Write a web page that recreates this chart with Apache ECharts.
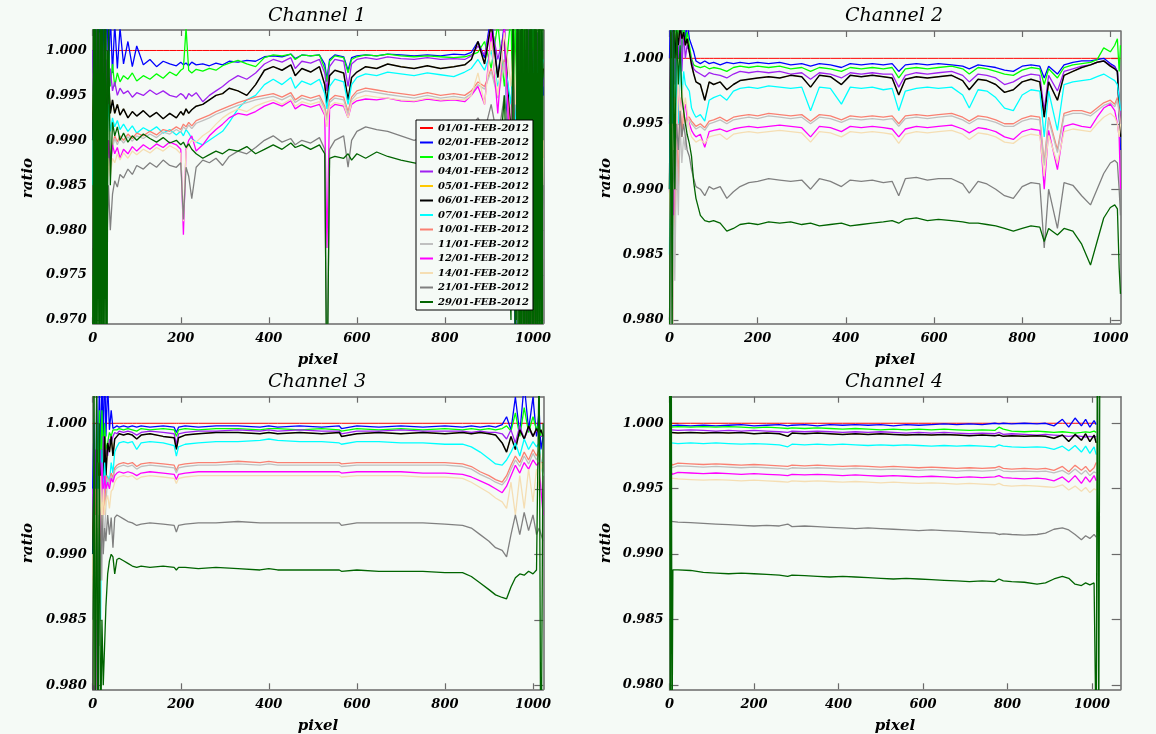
<!DOCTYPE html>
<html><head><meta charset="utf-8">
<script src="https://cdn.jsdelivr.net/npm/echarts@6/dist/echarts.min.js"></script>
<style>html,body{margin:0;padding:0;background:#f5faf6;}#c{width:1156px;height:734px;}</style>
</head><body><div id="c"></div>
<script>
// ---------- labels / ticks ----------
const SERIES_NAMES = ['01/01-FEB-2012','02/01-FEB-2012','03/01-FEB-2012','04/01-FEB-2012','05/01-FEB-2012','06/01-FEB-2012','07/01-FEB-2012','10/01-FEB-2012','11/01-FEB-2012','12/01-FEB-2012','14/01-FEB-2012','21/01-FEB-2012','29/01-FEB-2012'];
const CHANNEL_TITLES = ['Channel 1','Channel 2','Channel 3','Channel 4'];
const X_TICKS = [0,200,400,600,800,1000];
const CH1_Y_TICKS = [0.970,0.975,0.980,0.985,0.990,0.995,1.000];
const CH234_Y_TICKS = [0.980,0.985,0.990,0.995,1.000];

// ---------- Channel 1 ----------
const CH1_PIXEL = [0,4,8,12,16,20,24,28,32,36,40,
45,50,56,62,70,80,90,100,115,130,
145,160,175,190,200,206,212,218,225,235,
250,265,280,295,310,330,350,370,390,410,
430,450,460,475,495,515,527,532,538,550,
570,580,588,600,620,645,670,700,730,760,
790,820,845,860,875,890,905,920,935,
950,955,960,965,970,975,980,985,990,995,1000,1005,1010,1015,1020,1023];
const CH1_01 = [1,1,1,1,1,1,1,1,1,1,1,
1,1,1,1,1,1,1,1,1,1, 1,1,1,1,1,1,1,1,1,1, 1,1,1,1,1,1,1,1,1,1, 1,1,1,1,1,1,1,1,1,1, 1,1,1,1,1,1,1,1,1,1, 1,1,1,1,1,1,1,1,1,
1,1,1,1,1,1,1,1,1,1,1,1,1,1,1,1];
const CH1_02 = [1.0,.995,1.003,.99,1.004,.992,1.005,.996,1.006,.997,1.004,
.9975,1.003,.998,1.0025,.9985,1.001,.9982,1.0005,.9984,.9990,
.9982,.9988,.9985,.9983,.9987,.9984,.9986,.9983,.9987,.9984,
.9985,.9983,.9986,.9984,.9988,.9987,.9989,.9988,.9993,.9994,
.9993,.9996,.9991,.9995,.9994,.9995,.9985,.9968,.9990,.9995,
.9993,.9978,.9992,.9994,.9995,.9994,.9996,.9995,.9994,.9995,
.9994,.9996,.9995,.9998,1.001,.9992,1.004,.997,1.003,
.975,1.004,.96,1.003,.99,1.005,.97,1.0,.96,.995,1.003,.98,1.0,.99,1.002,.995];
const CH1_03 = [.99,1.004,.985,1.003,.99,1.002,.993,1.001,.995,1.0,.996,
.9985,.996,.9975,.9965,.9972,.9968,.9975,.9966,.9972,.9968,
.9974,.9969,.9976,.9972,.9978,.9980,1.0025,.9978,.9975,.9979,
.9977,.9980,.9978,.9983,.9986,.9989,.9985,.9982,.9992,.9995,
.9994,.9996,.9990,.9995,.9994,.9995,.9980,.9965,.9988,.9994,
.9992,.9975,.9990,.9993,.9995,.9994,.9996,.9994,.9993,.9994,
.9993,.9992,.9993,.9995,.9998,1.001,.998,1.003,.996,
1.004,.99,1.005,.985,1.003,.99,1.005,.975,1.0,.98,1.003,.99,1.002,.995,1.0,.997];
const CH1_04 = [1.0,.99,1.003,.988,1.002,.99,1.0,.992,.999,.994,.998,
.9955,.9965,.9950,.9958,.9952,.9955,.9948,.9953,.9950,.9956,
.9951,.9955,.9950,.9948,.9952,.9950,.9946,.9952,.9949,.9953,
.9943,.9950,.9955,.9960,.9966,.9972,.9968,.9975,.9985,.9990,
.9987,.9992,.9980,.9988,.9986,.9990,.9975,.9955,.9982,.9990,
.9988,.9960,.9985,.9990,.9992,.9990,.9993,.9991,.9990,.9992,
.9990,.9991,.9990,.9994,1.0005,.9995,1.003,.999,1.002,
.985,1.003,.98,1.004,.975,.995,.96,.99,1.003,.99,1.0,.985,1.002,.995,.999,.996];
const CH1_05 = [.99,1.002,.985,1.001,.988,.999,.990,.998,.992,.997,.993,
.9945,.9930,.9940,.9928,.9935,.9925,.9932,.9927,.9933,.9926,
.9931,.9924,.9930,.9925,.9932,.9928,.9935,.9930,.9934,.9938,
.9940,.9945,.9950,.9952,.9958,.9955,.9950,.9962,.9978,.9982,
.9978,.9984,.9972,.9980,.9976,.9982,.9962,.9940,.9972,.9978,
.9975,.9945,.9970,.9976,.9982,.9980,.9985,.9982,.9980,.9983,
.9980,.9982,.9984,.9990,1.001,.9985,1.003,.997,1.002,
.990,1.003,.985,1.002,.99,1.003,.985,1.0,.99,1.002,.995,1.0,.993,.998,.996,.998];
const CH1_06 = [.99,1.002,.985,1.001,.988,.999,.990,.998,.992,.997,.993,
.9945,.9930,.9940,.9928,.9935,.9925,.9932,.9927,.9933,.9926,
.9931,.9924,.9930,.9925,.9932,.9928,.9935,.9930,.9934,.9938,
.9940,.9945,.9950,.9952,.9958,.9955,.9950,.9962,.9978,.9982,
.9978,.9984,.9972,.9980,.9976,.9982,.9962,.9940,.9972,.9978,
.9975,.9945,.9970,.9976,.9982,.9980,.9985,.9982,.9980,.9983,
.9980,.9982,.9984,.9990,1.001,.9985,1.003,.997,1.002,
.990,1.003,.985,1.002,.99,1.003,.985,1.0,.99,1.002,.995,1.0,.993,.998,.996,.998];
const CH1_07 = [.985,1.0,.98,.999,.985,.997,.988,.995,.990,.994,.991,
.9925,.9915,.9922,.9912,.9918,.9910,.9916,.9908,.9914,.9910,
.9915,.9908,.9912,.9906,.9910,.9905,.9912,.9908,.9902,.9898,
.9895,.9900,.9905,.9910,.9920,.9935,.9945,.9950,.9962,.9968,
.9962,.9970,.9958,.9966,.9962,.9968,.9952,.9935,.9960,.9968,
.9965,.9940,.9962,.9970,.9974,.9972,.9976,.9974,.9972,.9975,
.9973,.9971,.9976,.9980,.9990,.9978,1.0,.996,.999,
.994,.999,.99,.998,.993,1.0,.99,.997,.992,.999,.995,1.002,.996,1.0,.998,.999];
const CH1_10 = [.98,.99,.975,.985,.972,.99,.98,.992,.985,.99,.988,
.9895,.9905,.9898,.9905,.9900,.9907,.9902,.9908,.9905,.9910,
.9906,.9912,.9910,.9915,.9912,.9918,.9915,.9920,.9916,.9922,
.9925,.9928,.9932,.9935,.9938,.9942,.9945,.9948,.9950,.9952,
.9948,.9953,.9945,.9950,.9947,.9950,.9938,.9925,.9945,.9950,
.9948,.9932,.9948,.9955,.9958,.9956,.9954,.9952,.9950,.9953,
.9950,.9952,.9950,.9955,.9965,.996,.998,.995,.999,
.99,.998,.985,.997,.98,.995,.975,.99,.97,.985,.96,.98,.97,.99,.98,.99];
const CH1_11 = [.978,.988,.974,.984,.971,.988,.979,.99,.984,.989,.987,
.9892,.9902,.9895,.9902,.9897,.9904,.9899,.9905,.9902,.9907,
.9903,.9909,.9907,.9912,.9909,.9915,.9912,.9917,.9913,.9919,
.9922,.9925,.9929,.9932,.9935,.9939,.9942,.9945,.9947,.9949,
.9945,.9950,.9942,.9947,.9944,.9947,.9935,.9922,.9942,.9947,
.9945,.9929,.9945,.9952,.9955,.9953,.9951,.9949,.9947,.9950,
.9947,.9949,.9947,.9952,.9962,.9957,.9977,.9947,.9987,
.988,.996,.984,.995,.982,.994,.98,.992,.975,.99,.97,.985,.975,.99,.98,.988];
const CH1_12 = [.975,.99,.97,.988,.975,.99,.98,.99,.985,.99,.987,
.9895,.9885,.9892,.9880,.9890,.9885,.9893,.9888,.9895,.9890,
.9896,.9892,.9898,.9895,.9890,.9795,.9890,.9900,.9905,.9888,
.9895,.9905,.9912,.9918,.9925,.9930,.9928,.9932,.9938,.9942,
.9938,.9944,.9935,.9940,.9937,.9940,.9928,.9780,.9935,.9940,
.9938,.9925,.9940,.9944,.9946,.9945,.9947,.9944,.9943,.9946,
.9944,.9945,.9943,.9950,.9960,.9940,1.002,.9930,1.003,
.985,1.0,.98,1.002,.975,.99,.96,.985,.95,.97,.96,.99,.995,.985,.99,.99];
const CH1_14 = [.97,.985,.975,.99,.98,.988,.982,.99,.984,.988,.986,
.9880,.9875,.9885,.9878,.9886,.9880,.9888,.9884,.9890,.9886,
.9892,.9888,.9894,.9890,.9885,.9810,.9888,.9895,.9900,.9898,
.9905,.9910,.9918,.9925,.9930,.9935,.9932,.9938,.9942,.9945,
.9940,.9946,.9938,.9943,.9940,.9943,.9930,.9915,.9938,.9942,
.9940,.9925,.9942,.9947,.9950,.9948,.9947,.9945,.9944,.9947,
.9945,.9946,.9945,.9950,.9975,.9940,1.001,.9950,1.002,
.996,1.001,.994,1.0,.992,.999,.99,.998,.985,.995,.975,.99,.97,.985,.98,.99];
const CH1_21 = [.965,.985,.97,.98,.972,.985,.976,.986,.978,.985,.98,
.9840,.9855,.9848,.9862,.9858,.9868,.9862,.9872,.9868,.9875,
.9870,.9878,.9872,.9870,.9875,.9812,.9870,.9860,.9835,.9870,
.9878,.9875,.9880,.9872,.9882,.9888,.9885,.9892,.9900,.9905,
.9898,.9902,.9895,.9900,.9897,.9903,.9890,.9600,.9890,.9900,
.9905,.9870,.9900,.9910,.9915,.9912,.9910,.9905,.9900,.9905,
.9900,.9902,.9905,.9915,.9925,.9910,.9940,.9900,.9950,
.988,.994,.985,.993,.982,.99,.978,.988,.975,.985,.975,.98,.975,.985,.98,.985];
const CH1_29 = [.96,1.01,.96,1.01,.96,1.01,.96,1.01,.965,1.005,.985,
.9920,.9905,.9915,.9900,.9908,.9898,.9905,.9900,.9907,.9902,
.9898,.9903,.9897,.9900,.9895,.9898,.9892,.9896,.9890,.9885,
.9880,.9884,.9888,.9885,.9890,.9888,.9893,.9885,.9890,.9895,
.9890,.9897,.9892,.9895,.9890,.9895,.9885,.9600,.9880,.9882,
.9880,.9885,.9878,.9885,.9880,.9887,.9882,.9878,.9875,.9872,
.9870,.9868,.9870,.9875,.9880,.9870,.9900,.9850,.9950,
.97,1.01,.96,1.01,.96,1.01,.96,1.01,.96,1.01,.96,1.01,.96,1.01,.96,1.01];
// dense oscillation of 29/01 at the detector edges (channel 1)
const CH1_29_EDGE_PIXEL = [0,2,4,6,8,10,12,14,16,18,20,22,24,26,28,30,32,34,null,
962,964,966,968,970,972,974,976,978,980,982,984,986,988,990,992,994,996,998,1000,1002,1004,1006,1008,1010,1012,1014,1016,1018,1020,1022];
const CH1_29_EDGE = [.96,1.01,.96,1.01,.96,1.01,.96,1.01,.96,1.01,.96,1.01,.96,1.01,.96,1.01,.96,1.0,null,
.97,1.01,.96,1.01,.96,1.01,.96,1.01,.96,1.01,.96,1.01,.96,1.01,.96,1.01,.96,1.01,.96,1.01,.96,1.01,.96,1.01,.96,1.01,.96,1.01,.96,1.01,.96];

// ---------- Channel 2 ----------
const CH2_PIXEL = [0,3,6,9,12,16,20,24,28,32,36,40,
45,50,55,60,70,80,90,100,115,130,
145,160,180,200,225,250,275,300,320,340,
365,390,410,435,460,485,505,520,535,560,
585,610,640,665,680,700,720,740,760,780,
800,820,840,850,860,880,895,915,935,955,
970,985,1000,1010,1016,1020,1023];
const CH2_01 = [1,1,1,1,1,1,1,1,1,1,1,1,
1,1,1,1,1,1,1,1,1,1, 1,1,1,1,1,1,1,1,1,1, 1,1,1,1,1,1,1,1,1,1, 1,1,1,1,1,1,1,1,1,1, 1,1,1,1,1,1,1,1,1,1,
1,1,1,1,1,1,1];
const CH2_02 = [1.0,1.004,.999,1.005,1.002,1.004,1.003,1.005,1.002,1.004,1.001,1.003,
1.0015,1.001,1.0005,.9998,.9996,.9998,.9996,.9997,.9995,.9997,
.9996,.9997,.9996,.9997,.9996,.9997,.9995,.9996,.9994,.9996,
.9995,.9993,.9996,.9995,.9996,.9995,.9996,.9990,.9995,.9996,
.9995,.9996,.9995,.9994,.9992,.9995,.9994,.9993,.9991,.9990,
.9994,.9995,.9994,.9985,.9994,.9988,.9995,.9997,.9998,.9998,
.9999,1.0,.9996,.9994,.999,.996,.993];
const CH2_03 = [.99,1.003,.985,1.004,1.0,1.003,1.001,1.004,1.0,1.003,1.001,1.002,
1.001,1.0,.9995,.9994,.9993,.9994,.9992,.9993,.9992,.9990,
.9993,.9994,.9993,.9994,.9993,.9994,.9992,.9993,.9990,.9993,
.9992,.9990,.9993,.9992,.9993,.9992,.9993,.9985,.9992,.9993,
.9992,.9993,.9994,.9992,.9988,.9993,.9992,.9990,.9988,.9987,
.9991,.9993,.9992,.9980,.9992,.9985,.9993,.9995,.9996,.9997,
.9999,1.0008,1.0005,1.001,1.0015,.999,1.001];
const CH2_04 = [.995,1.002,.99,1.003,.998,1.002,1.0,1.003,.999,1.002,1.0,1.001,
1.0005,.9998,.9992,.9990,.9988,.9986,.9989,.9988,.9987,.9985,
.9988,.9990,.9989,.9990,.9989,.9990,.9988,.9989,.9984,.9989,
.9988,.9985,.9989,.9988,.9989,.9988,.9988,.9978,.9987,.9989,
.9988,.9989,.9990,.9987,.9982,.9988,.9987,.9985,.9980,.9982,
.9986,.9988,.9987,.9960,.9987,.9975,.9990,.9992,.9994,.9995,
.9997,.9998,.9995,.9993,.999,.997,.995];
const CH2_05 = [.99,1.002,.992,1.003,1.0,1.002,1.001,1.0025,1.0015,1.002,1.001,1.0015,
1.0005,.9995,.9988,.9982,.9980,.9968,.9982,.9980,.9982,.9976,
.9980,.9983,.9984,.9985,.9986,.9985,.9987,.9986,.9978,.9987,
.9986,.9980,.9987,.9986,.9987,.9986,.9985,.9972,.9984,.9986,
.9985,.9986,.9987,.9983,.9976,.9984,.9983,.9980,.9974,.9976,
.9982,.9984,.9982,.9955,.9982,.9968,.9987,.9990,.9993,.9995,
.9997,.9998,.9994,.9992,.9990,.996,.994];
const CH2_06 = [.99,1.002,.992,1.003,1.0,1.002,1.001,1.0025,1.0015,1.002,1.001,1.0015,
1.0005,.9995,.9988,.9982,.9980,.9968,.9982,.9980,.9982,.9976,
.9980,.9983,.9984,.9985,.9986,.9985,.9987,.9986,.9978,.9987,
.9986,.9980,.9987,.9986,.9987,.9986,.9985,.9972,.9984,.9986,
.9985,.9986,.9987,.9983,.9976,.9984,.9983,.9980,.9974,.9976,
.9982,.9984,.9982,.9955,.9982,.9968,.9987,.9990,.9993,.9995,
.9997,.9998,.9994,.9992,.9990,.996,.994];
const CH2_07 = [.985,1.0,.98,1.002,.99,1.0,.995,1.001,.997,.999,.998,.998,
.9975,.9962,.9958,.9955,.9957,.9952,.9968,.9970,.9972,.9968,
.9975,.9977,.9978,.9977,.9979,.9978,.9977,.9978,.9960,.9978,
.9977,.9965,.9978,.9977,.9978,.9976,.9977,.9960,.9975,.9977,
.9978,.9977,.9978,.9972,.9962,.9976,.9975,.9970,.9962,.9960,
.9972,.9976,.9975,.9940,.9975,.9945,.9980,.9982,.9983,.9984,
.9986,.9988,.9985,.9983,.998,.997,.996];
const CH2_10 = [.975,.99,.97,.993,.985,.995,.99,.997,.994,.996,.995,.9955,
.9955,.9952,.9950,.9948,.9950,.9947,.9952,.9953,.9955,.9952,
.9955,.9956,.9957,.9956,.9958,.9957,.9956,.9957,.9952,.9957,
.9956,.9953,.9956,.9955,.9956,.9955,.9956,.9950,.9956,.9957,
.9956,.9957,.9958,.9955,.9952,.9956,.9955,.9953,.9950,.9950,
.9954,.9956,.9955,.9920,.9955,.9930,.9958,.9960,.9960,.9958,
.9962,.9966,.9968,.9965,.997,.996,.995];
const CH2_11 = [.973,.988,.968,.991,.983,.993,.988,.995,.992,.994,.993,.9953,
.9953,.9950,.9948,.9946,.9948,.9945,.9950,.9951,.9953,.9950,
.9953,.9954,.9955,.9954,.9956,.9955,.9954,.9955,.9950,.9955,
.9954,.9951,.9954,.9953,.9954,.9953,.9954,.9948,.9954,.9955,
.9954,.9955,.9956,.9953,.9950,.9954,.9953,.9951,.9948,.9948,
.9952,.9954,.9953,.9918,.9953,.9928,.9956,.9958,.9958,.9956,
.9960,.9964,.9966,.9963,.9968,.9958,.9948];
const CH2_12 = [.99,.987,.995,.988,.997,.993,.998,.996,.997,.996,.9965,.9955,
.9950,.9945,.9942,.9940,.9942,.9932,.9944,.9945,.9946,.9944,
.9946,.9947,.9948,.9947,.9948,.9949,.9948,.9947,.9940,.9948,
.9947,.9944,.9948,.9947,.9948,.9947,.9946,.9940,.9946,.9948,
.9947,.9948,.9949,.9946,.9943,.9947,.9946,.9944,.9940,.9938,
.9944,.9946,.9945,.9900,.9945,.9915,.9948,.9950,.9948,.9947,
.9955,.9962,.9965,.9960,.995,.994,.99];
const CH2_14 = [.99,.985,.995,.99,.997,.993,.999,.995,.998,.996,.997,.996,
.9945,.9940,.9938,.9936,.9938,.9935,.9940,.9941,.9942,.9938,
.9942,.9943,.9944,.9943,.9944,.9945,.9944,.9943,.9936,.9944,
.9943,.9940,.9944,.9943,.9944,.9943,.9942,.9935,.9942,.9944,
.9943,.9944,.9945,.9942,.9938,.9943,.9942,.9940,.9936,.9935,
.9940,.9942,.9941,.9910,.9941,.9920,.9944,.9946,.9945,.9944,
.9950,.9955,.9958,.9955,.995,.994,.995];
const CH2_21 = [.98,.99,.985,.993,.99,.995,.993,.996,.994,.995,.994,.993,
.9925,.9915,.9908,.9902,.9900,.9895,.9902,.9900,.9902,.9893,
.9898,.9902,.9905,.9906,.9908,.9907,.9906,.9907,.9900,.9908,
.9906,.9902,.9907,.9906,.9907,.9905,.9906,.9895,.9908,.9909,
.9907,.9908,.9908,.9904,.9897,.9906,.9904,.9900,.9895,.9893,
.9902,.9905,.9904,.9855,.9900,.9870,.9905,.9903,.9895,.9888,
.9900,.9912,.9920,.9922,.992,.99,.988];
const CH2_29 = [.975,1.005,.978,1.004,.99,1.003,.998,1.001,.997,.996,.995,.9942,
.9935,.9925,.9905,.9893,.9880,.9876,.9875,.9876,.9874,.9868,
.9870,.9873,.9874,.9873,.9875,.9874,.9875,.9873,.9874,.9872,
.9873,.9874,.9872,.9873,.9874,.9875,.9876,.9874,.9877,.9878,
.9876,.9877,.9876,.9875,.9874,.9874,.9873,.9872,.9870,.9868,
.9870,.9872,.9871,.9860,.9870,.9865,.9870,.9868,.9858,.9842,
.9860,.9878,.9886,.9888,.9885,.984,.982];

// ---------- Channel 3 ----------
const CH3_PIXEL = [0,3,6,9,12,15,18,21,24,27,30,
34,38,42,46,50,55,60,70,80,90,
100,110,130,160,185,190,195,210,240,280,
330,380,400,420,470,520,560,565,600,650,
700,750,800,840,860,880,900,915,930,940,
950,960,970,980,990,1000,1008,1014,1018,1023];
const CH3_01 = [1,1,1,1,1,1,1,1,1,1,1,
1,1,1,1,1,1,1,1,1,1, 1,1,1,1,1,1,1,1,1,1, 1,1,1,1,1,1,1,1,1,1, 1,1,1,1,1,1,1,1,1,1, 1,1,1,1,1,1,1,1,1,1];
const CH3_02 = [.995,1.0,.99,1.002,.995,1.003,.997,1.004,.998,1.005,.999,
1.003,.9995,1.001,.9996,.9997,.9998,.9997,.9998,.9997,.9998,
.9997,.9998,.9997,.9998,.9997,.9993,.9997,.9998,.9997,.9998,
.9998,.9997,.9998,.9997,.9998,.9997,.9998,.9996,.9998,.9997,
.9998,.9997,.9998,.9997,.9998,.9997,.9998,.9997,.9999,1.0005,
.9995,1.002,.9992,1.003,.9995,1.002,.999,1.001,.998,.999];
const CH3_03 = [.99,.997,.985,1.0,.99,1.001,.995,1.001,.997,1.0,.998,
.9985,.9993,.9990,.9995,.9996,.9995,.9996,.9995,.9996,.9995,
.9994,.9996,.9995,.9996,.9995,.9990,.9995,.9996,.9995,.9996,
.9996,.9995,.9996,.9996,.9995,.9996,.9995,.9994,.9996,.9995,
.9996,.9995,.9996,.9995,.9996,.9995,.9996,.9995,.9996,.9998,
.9994,1.0008,.9990,1.0012,.9993,1.0005,.9995,1.0,.999,.999];
const CH3_04 = [.995,.99,.998,.985,.996,.99,.998,.994,.999,.996,.998,
.9975,.9988,.9985,.9990,.9993,.9992,.9994,.9993,.9994,.9993,
.9991,.9993,.9994,.9993,.9992,.9984,.9992,.9993,.9994,.9994,
.9995,.9994,.9995,.9994,.9995,.9994,.9994,.9992,.9994,.9994,
.9995,.9994,.9994,.9994,.9993,.9994,.9993,.9993,.9992,.9988,
.9995,.9985,.9998,.9988,.9996,.9990,.9995,.999,.999,.999];
const CH3_05 = [.99,.996,.985,.998,.99,.997,.993,.998,.995,.999,.996,
.9985,.9978,.9990,.9975,.9988,.9990,.9992,.9991,.9992,.9991,
.9988,.9991,.9992,.9990,.9989,.9980,.9989,.9991,.9992,.9993,
.9993,.9992,.9993,.9992,.9993,.9992,.9993,.9990,.9992,.9993,
.9992,.9993,.9992,.9993,.9992,.9993,.9992,.9991,.9985,.9978,
.9990,.9980,.9995,.9988,.9998,.9990,.9996,.9992,.9995,.999];
const CH3_06 = [.99,.996,.985,.998,.99,.997,.993,.998,.995,.999,.996,
.9985,.9978,.9990,.9975,.9988,.9990,.9992,.9991,.9992,.9991,
.9988,.9991,.9992,.9990,.9989,.9980,.9989,.9991,.9992,.9993,
.9993,.9992,.9993,.9992,.9993,.9992,.9993,.9990,.9992,.9993,
.9992,.9993,.9992,.9993,.9992,.9993,.9992,.9991,.9985,.9978,
.9990,.9980,.9995,.9988,.9998,.9990,.9996,.9992,.9995,.999];
const CH3_07 = [.985,.995,.98,.997,.99,.996,.985,.998,.994,.997,.995,
.9960,.9955,.9970,.9962,.9978,.9982,.9985,.9986,.9985,.9986,
.9980,.9985,.9986,.9985,.9983,.9975,.9982,.9984,.9985,.9986,
.9986,.9987,.9988,.9987,.9986,.9986,.9985,.9984,.9986,.9986,
.9985,.9985,.9984,.9984,.9982,.9978,.9973,.9969,.9968,.9972,
.9978,.9985,.9975,.9988,.9980,.9986,.9982,.9985,.997,.996];
const CH3_10 = [.99,.98,.995,.978,.99,.985,.993,.99,.995,.993,.996,
.9960,.9955,.9962,.9958,.9966,.9968,.9969,.9970,.9969,.9970,
.9967,.9969,.9970,.9969,.9968,.9964,.9968,.9969,.9970,.9970,
.9971,.9970,.9971,.9970,.9970,.9970,.9970,.9969,.9970,.9970,
.9970,.9970,.9970,.9969,.9967,.9963,.9960,.9957,.9955,.9960,
.9968,.9975,.9970,.9978,.9972,.9980,.9975,.998,.997,.997];
const CH3_11 = [.988,.978,.993,.976,.988,.983,.991,.988,.993,.991,.994,
.9958,.9953,.9960,.9956,.9964,.9966,.9967,.9968,.9967,.9968,
.9965,.9967,.9968,.9967,.9966,.9962,.9966,.9967,.9968,.9968,
.9969,.9968,.9969,.9968,.9968,.9968,.9968,.9967,.9968,.9968,
.9968,.9968,.9968,.9967,.9965,.9961,.9958,.9955,.9953,.9957,
.9965,.9972,.9967,.9975,.9969,.9977,.9972,.9977,.9968,.9968];
const CH3_12 = [.975,.99,.97,.995,.985,.99,.993,.997,.994,.996,.995,
.9955,.9950,.9958,.9955,.9960,.9962,.9963,.9962,.9963,.9962,
.9960,.9962,.9963,.9962,.9961,.9957,.9961,.9962,.9963,.9963,
.9963,.9963,.9963,.9963,.9963,.9963,.9963,.9962,.9963,.9963,
.9963,.9962,.9962,.9961,.9959,.9956,.9953,.9950,.9947,.9952,
.9960,.9968,.9962,.9970,.9965,.9972,.9968,.997,.995,.993];
const CH3_14 = [.99,.98,.993,.985,.995,.99,.996,.992,.995,.993,.994,
.9945,.9935,.9948,.9950,.9955,.9958,.9959,.9960,.9959,.9960,
.9957,.9959,.9960,.9959,.9958,.9954,.9958,.9959,.9960,.9960,
.9960,.9960,.9960,.9960,.9960,.9960,.9960,.9959,.9960,.9960,
.9960,.9959,.9959,.9958,.9955,.9951,.9947,.9943,.9940,.9935,
.9955,.9930,.9960,.9935,.9965,.9940,.9965,.995,.997,.996];
const CH3_21 = [.985,.99,.98,.992,.985,.993,.988,.993,.99,.992,.991,
.9930,.9915,.9928,.9905,.9928,.9930,.9929,.9927,.9925,.9924,
.9922,.9923,.9924,.9923,.9922,.9917,.9922,.9923,.9924,.9924,
.9925,.9924,.9924,.9924,.9924,.9924,.9924,.9922,.9924,.9924,
.9924,.9924,.9923,.9922,.9920,.9915,.9910,.9905,.9903,.9898,
.9915,.9930,.9915,.9932,.9918,.9930,.9915,.992,.992,.991];
const CH3_29 = [.97,1.005,.97,1.005,.97,1.0,.975,.985,.98,.983,.986,
.9885,.9895,.9900,.9898,.9885,.9896,.9897,.9895,.9893,.9891,
.9890,.9891,.9890,.9891,.9890,.9888,.9890,.9890,.9889,.9890,
.9889,.9888,.9889,.9888,.9888,.9888,.9888,.9887,.9888,.9887,
.9887,.9887,.9886,.9886,.9883,.9878,.9873,.9869,.9867,.9866,
.9875,.9882,.9885,.9884,.9887,.9885,.9888,1.005,.97,1.0];

// ---------- Channel 4 ----------
const CH4_PIXEL = [0,2,4,6,8,
20,50,80,110,140,170,200,230,260,280,
290,320,350,380,410,440,470,500,530,560,
590,620,650,680,710,740,770,780,790,810,
840,870,890,910,930,945,960,975,985,995,
1005,1010,1013,1016,1019];
const CH4_01 = [null,null,1,1,1,
1,1,1,1,1,1,1,1,1,1, 1,1,1,1,1,1,1,1,1,1, 1,1,1,1,1,1,1,1,1,1, 1,1,1,1,1,1,1,1,1,1,
1,1,null,null,null];
const CH4_02 = [null,null,.9998,.9999,.9998,
.99985,.9998,.99985,.9998,.99985,.9999,.9998,.99985,.9999,.9998,
.99985,.9999,.9998,.9999,.99985,.9999,.99985,.9999,.9998,.9999,
.99985,.9999,.99995,.9999,.99995,.9999,1.0,.99995,1.0,.99995,
1.0,.99995,1.0,.9998,1.0003,.9997,1.0004,.9998,1.0003,.9997,
1.0002,.9999,null,null,null];
const CH4_03 = [null,null,.9997,.9998,.9997,
.99975,.9997,.99975,.9997,.99975,.9997,.99965,.9997,.99965,.9996,
.99965,.9996,.99965,.9996,.99955,.9996,.99955,.9995,.99955,.9995,
.99955,.9995,.99955,.9995,.99945,.9995,.99945,.9997,.99955,.9994,
.99935,.9994,.99935,.9993,.99935,.9993,.99925,.9993,.99935,.9993,
.9994,.9993,null,null,null];
const CH4_04 = [null,null,.9995,.9994,.9995,
.99945,.9995,.99945,.9994,.99945,.9994,.99945,.9994,.99935,.9993,
.9994,.99935,.9994,.99935,.9993,.99935,.9993,.99935,.9993,.99925,
.9993,.99925,.9993,.99925,.9992,.99925,.9992,.9993,.99915,.9992,
.99915,.9991,.99915,.9991,.99905,.9990,.99905,.9990,.99895,.9990,
.99895,.9990,null,null,null];
const CH4_05 = [null,null,.9993,.9992,.9993,
.99925,.9993,.99925,.9993,.99925,.9993,.9992,.99925,.9992,.9990,
.99925,.9992,.99925,.9992,.99915,.9992,.99915,.9992,.99915,.9991,
.99915,.9991,.99915,.9991,.99905,.9991,.99905,.9991,.9990,.99905,
.9990,.99905,.9990,.99885,.9991,.9986,.99915,.9987,.9992,.9986,
.9991,.9985,null,null,null];
const CH4_06 = [null,null,.9993,.9992,.9993,
.99925,.9993,.99925,.9993,.99925,.9993,.9992,.99925,.9992,.9990,
.99925,.9992,.99925,.9992,.99915,.9992,.99915,.9992,.99915,.9991,
.99915,.9991,.99915,.9991,.99905,.9991,.99905,.9991,.9990,.99905,
.9990,.99905,.9990,.99885,.9991,.9986,.99915,.9987,.9992,.9986,
.9991,.9985,null,null,null];
const CH4_07 = [null,null,.9985,.9984,.9985,
.99845,.9985,.99845,.9985,.99845,.9984,.99845,.9984,.99835,.9982,
.9984,.99835,.9984,.99835,.9984,.99835,.9983,.99835,.9983,.99835,
.9983,.99825,.9983,.99825,.9983,.99825,.9982,.99835,.99825,.9982,
.99815,.9982,.99815,.9980,.99825,.9979,.9983,.9978,.99825,.9977,
.9982,.9976,null,null,null];
const CH4_10 = [null,null,.9970,.9968,.9969,
.99695,.9969,.99685,.9969,.99685,.9968,.99685,.9968,.99675,.9967,
.9968,.99675,.9968,.99675,.9967,.99675,.9967,.99665,.9967,.99665,
.9966,.99665,.9966,.99655,.9966,.99655,.9966,.9967,.99655,.9965,
.99655,.9965,.99655,.9964,.9967,.9963,.9968,.9964,.9967,.9963,
.9966,.9970,null,null,null];
const CH4_11 = [null,null,.9968,.9966,.9967,
.99675,.9967,.99665,.9967,.99665,.9966,.99665,.9966,.99655,.9965,
.9966,.99655,.9966,.99655,.9965,.99655,.9965,.99645,.9965,.99645,
.9964,.99645,.9964,.99635,.9964,.99635,.9964,.9965,.99635,.9963,
.99635,.9963,.99635,.9962,.9964,.9961,.9965,.9961,.9964,.9960,
.9963,.9962,null,null,null];
const CH4_12 = [null,null,.9963,.9961,.9962,
.99625,.9962,.99615,.9962,.99615,.9961,.99615,.9961,.99605,.9960,
.9961,.99605,.9961,.99605,.9960,.99605,.9960,.99595,.9960,.99595,
.9959,.99595,.9959,.99585,.9959,.99585,.9959,.9960,.99585,.9958,
.99575,.9958,.99575,.9956,.9959,.9955,.9960,.9954,.9959,.9955,
.9960,.9956,null,null,null];
const CH4_14 = [null,null,.9958,.9957,.9958,
.99575,.9957,.99565,.9957,.99565,.9956,.99565,.9956,.99555,.9955,
.9956,.99555,.9956,.99555,.9955,.99555,.9955,.99545,.9955,.99545,
.9954,.99545,.9954,.99535,.9954,.99535,.9953,.9954,.99525,.9952,
.99525,.9952,.99515,.9951,.9953,.9949,.9952,.9948,.9951,.9947,
.9950,.9949,null,null,null];
const CH4_21 = [null,null,.9925,.9924,.9925,
.99245,.9924,.99235,.9923,.99225,.9922,.99215,.9922,.99215,.9923,
.9921,.99215,.9921,.99205,.9920,.99195,.9920,.99195,.9919,.99185,
.9918,.99185,.9918,.99175,.9917,.99165,.9916,.9915,.99155,.9915,
.99145,.9915,.9916,.9919,.9920,.99185,.9915,.9911,.9914,.9912,
.9915,.9913,null,null,null];
const CH4_29 = [1.01,.975,1.01,.975,.9888,
.9888,.98875,.9886,.98855,.9885,.98855,.9885,.98845,.9884,.9883,
.9884,.98835,.9883,.98825,.9883,.98825,.9882,.98815,.9881,.98815,
.9881,.98805,.9880,.98795,.9879,.98795,.9879,.9881,.98795,.9879,
.98785,.9877,.9878,.9881,.9883,.98815,.9877,.9876,.9878,.98765,
.9878,.975,1.01,.975,1.01];

// ---------- assemble ----------
const PIXELS = [CH1_PIXEL, CH2_PIXEL, CH3_PIXEL, CH4_PIXEL];
const CHANNEL_SERIES = [
 [CH1_01,CH1_02,CH1_03,CH1_04,CH1_05,CH1_06,CH1_07,CH1_10,CH1_11,CH1_12,CH1_14,CH1_21,CH1_29],
 [CH2_01,CH2_02,CH2_03,CH2_04,CH2_05,CH2_06,CH2_07,CH2_10,CH2_11,CH2_12,CH2_14,CH2_21,CH2_29],
 [CH3_01,CH3_02,CH3_03,CH3_04,CH3_05,CH3_06,CH3_07,CH3_10,CH3_11,CH3_12,CH3_14,CH3_21,CH3_29],
 [CH4_01,CH4_02,CH4_03,CH4_04,CH4_05,CH4_06,CH4_07,CH4_10,CH4_11,CH4_12,CH4_14,CH4_21,CH4_29]
];

// ---------- styles / layout ----------
const COLORS = ['#ff0000','#0000ff','#00ff00','#a020f0','#ffc800','#000000','#00ffff','#fa8072','#c0c0c0','#ff00ff','#f5deb3','#808080','#006400'];
const LINE_WIDTHS = [1,1.3,1.3,1.3,0.8,1.5,1.3,1.3,1.3,1.3,1.3,1.3,1.3];
const BG = '#f5faf6';
const FRAME = '#6a6a6a';
const FONT = '"DejaVu Serif", serif';
const GRIDS = [
 {left:92.7, top:30, width:450.6, height:293.3},
 {left:669.5, top:31, width:450.8, height:292.3},
 {left:92.7, top:396.7, width:450.6, height:292.6},
 {left:669.5, top:396.7, width:451.2, height:292.6}];
const X_RANGE = [[0,1023.4],[0,1022.6],[0,1023.4],[0,1068]];
const Y_RANGE = [[0.96963,1.00228],[0.97975,1.00209],[0.97969,1.00203],[0.97967,1.00203]];
const Y_TICKS = [CH1_Y_TICKS, CH234_Y_TICKS, CH234_Y_TICKS, CH234_Y_TICKS];
const TITLE_POS = [[317,16],[894,16],[317,382],[894,382]];
const XNAME_POS = [[318,360],[895,360],[318,726],[895,726]];
const YNAME_POS = [[28.5,178],[606,178],[28.5,543],[606,543]];

const labelFont = {color:'#000', fontFamily:FONT, fontStyle:'italic', fontWeight:'bold', fontSize:13};

const xAxes = [], yAxes = [], series = [], graphics = [];
GRIDS.forEach((g, gi) => {
  ['bottom','top'].forEach(pos => {
    xAxes.push({type:'value', gridIndex:gi, position:pos, min:X_RANGE[gi][0], max:X_RANGE[gi][1],
      axisLine:{show:true, onZero:false, lineStyle:{color:FRAME, width:1.5}},
      axisTick:{show:true, inside:true, length:6, customValues:X_TICKS, lineStyle:{color:FRAME, width:1.2}},
      axisLabel:Object.assign({show:pos==='bottom', customValues:X_TICKS, margin:9, formatter:v=>String(Math.round(v))}, labelFont),
      splitLine:{show:false}});
  });
  ['left','right'].forEach(pos => {
    yAxes.push({type:'value', gridIndex:gi, position:pos, min:Y_RANGE[gi][0], max:Y_RANGE[gi][1],
      axisLine:{show:true, onZero:false, lineStyle:{color:FRAME, width:1.5}},
      axisTick:{show:true, inside:true, length:9, customValues:Y_TICKS[gi], lineStyle:{color:FRAME, width:1.2}},
      axisLabel:Object.assign({show:pos==='left', customValues:Y_TICKS[gi], margin:6, formatter:v=>v.toFixed(3)}, labelFont),
      splitLine:{show:false}});
  });
  CHANNEL_SERIES[gi].forEach((vals, si) => {
    series.push({type:'line', name:SERIES_NAMES[si], xAxisIndex:gi*2, yAxisIndex:gi*2,
      data:PIXELS[gi].map((p, i) => [p, vals[i]]),
      symbol:'none', showSymbol:false, connectNulls:false, silent:true, clip:true,
      lineStyle:{width:LINE_WIDTHS[si], color:COLORS[si]}, itemStyle:{color:COLORS[si]}});
  });
  graphics.push({type:'text', x:TITLE_POS[gi][0], y:TITLE_POS[gi][1],
    style:{text:CHANNEL_TITLES[gi], fill:'#000', font:'italic 19px "DejaVu Serif"', align:'center', verticalAlign:'middle'}});
  graphics.push({type:'text', x:XNAME_POS[gi][0], y:XNAME_POS[gi][1],
    style:{text:'pixel', fill:'#000', font:'italic bold 15px "DejaVu Serif"', align:'center', verticalAlign:'middle'}});
  graphics.push({type:'text', x:YNAME_POS[gi][0], y:YNAME_POS[gi][1], rotation:Math.PI/2,
    style:{text:'ratio', fill:'#000', font:'italic bold 15px "DejaVu Serif"', align:'center', verticalAlign:'middle'}});
});
// channel-1 edge oscillation of 29/01 (same legend entry)
series.push({type:'line', name:SERIES_NAMES[12], xAxisIndex:0, yAxisIndex:0,
  data:CH1_29_EDGE_PIXEL.map((p, i) => p === null ? [null, null] : [p, CH1_29_EDGE[i]]),
  symbol:'none', showSymbol:false, connectNulls:false, silent:true, clip:true,
  lineStyle:{width:1.3, color:COLORS[12]}, itemStyle:{color:COLORS[12]}});

const chart = echarts.init(document.getElementById('c'), null, {renderer:'canvas'});
chart.setOption({
  backgroundColor: BG,
  animation:false,
  grid: GRIDS.map(g => Object.assign({containLabel:false}, g)),
  xAxis: xAxes, yAxis: yAxes,
  legend: {orient:'vertical', left:416, top:120, padding:[3,4,3,4], itemGap:4.5, itemWidth:13, itemHeight:2,
    icon:'rect', backgroundColor:BG, borderColor:'#000', borderWidth:1, selectedMode:false, z:10,
    textStyle:{fontFamily:FONT, fontStyle:'italic', fontWeight:'bold', fontSize:10, lineHeight:10, color:'#000'},
    data:SERIES_NAMES},
  graphic: graphics,
  series: series
});
</script>
</body></html>
